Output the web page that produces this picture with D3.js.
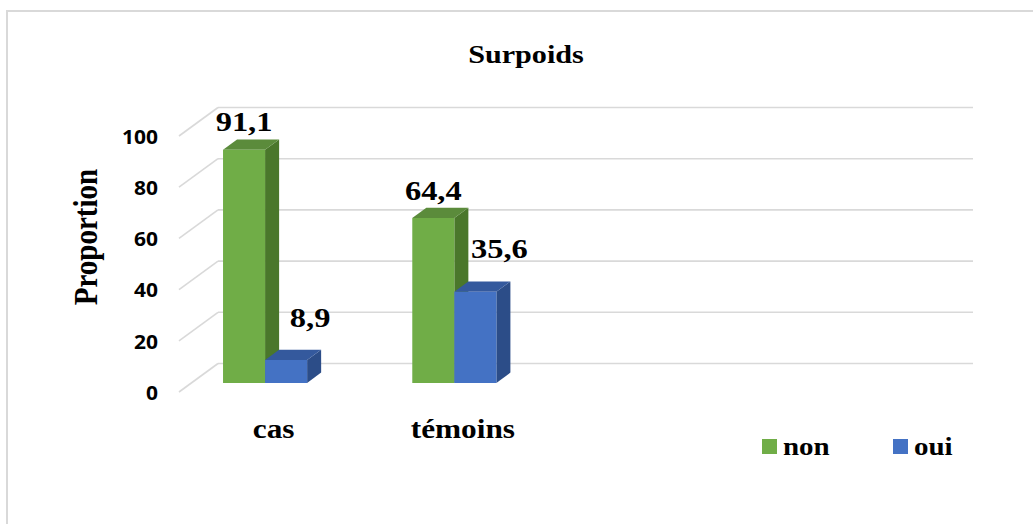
<!DOCTYPE html>
<html>
<head>
<meta charset="utf-8">
<script src="https://cdn.jsdelivr.net/npm/d3@7"></script>
<style>
  html, body { margin: 0; padding: 0; background: #fff; }
  svg { display: block; }
</style>
</head>
<body>
<svg id="chart" width="1033" height="524"></svg>
<script>
// ---- data ----
const categories = ["cas", "témoins", "", ""];
const seriesNames = ["non", "oui"];
const nonValues = [91.1, 64.4];
const ouiValues = [8.9, 35.6];
const valueLabels = { non: ["91,1", "64,4"], oui: ["8,9", "35,6"] };
const yTicks = [0, 20, 40, 60, 80, 100];

// ---- layout ----
const W = 1033, H = 524;
const svg = d3.select("#chart");
const SX = 1.16;                       // horizontal text stretch
const serif = "'Liberation Serif', 'Times New Roman', serif";
const sans = "'Open Sans', 'Liberation Sans', sans-serif";

const floorLeft = 179, floorRight = 936;   // front edge of the floor
const DX = 39, DY = -28.5;                 // depth vector (front -> back wall)
const barD0 = 0.32, barD1 = 0.68;          // bar depth span, as fraction of floor depth

const y = d3.scaleLinear().domain([0, 100]).range([392, 136]);
const x = d3.scaleBand().domain(d3.range(categories.length)).range([floorLeft, floorRight]).padding(0);
const bw = x.bandwidth();
const xs = d3.scaleBand().domain(seriesNames).range([0.1667 * bw, 0.611 * bw]).padding(0);

const colors = {
  non: { front: "#70ad47", side: "#4a772b", top: "#5b8b3b" },
  oui: { front: "#4472c4", side: "#2c4d88", top: "#34599d" }
};

// chart border
svg.append("rect")
  .attr("x", 7).attr("y", 11).attr("width", W + 20).attr("height", H + 20)
  .attr("fill", "none").attr("stroke", "#d9d9d9").attr("stroke-width", 2);

function stretchedText(g, tx, ty, txt, sx = SX) {
  return g.append("text")
    .attr("transform", `translate(${tx},${ty}) scale(${sx},1)`)
    .text(txt);
}

// title
stretchedText(svg, 526, 63, "Surpoids")
  .attr("text-anchor", "middle").attr("font-family", serif)
  .attr("font-weight", "bold").attr("font-size", 26).attr("fill", "#000");

// ---- grid: back wall and side wall ----
const grid = svg.append("g").attr("stroke", "#d9d9d9").attr("stroke-width", 1.6).attr("fill", "none");
yTicks.forEach(t => {
  const yf = y(t);
  grid.append("line")
    .attr("x1", floorLeft + DX).attr("y1", yf + DY)
    .attr("x2", floorRight + DX - 2).attr("y2", yf + DY);
  grid.append("line")
    .attr("x1", floorLeft).attr("y1", yf)
    .attr("x2", floorLeft + DX).attr("y2", yf + DY);
});

// y tick labels
const yAxis = svg.append("g");
yTicks.forEach(t => {
  stretchedText(yAxis, 158, y(t), String(t), 1.05)
    .attr("text-anchor", "end").attr("dominant-baseline", "central")
    .attr("font-family", sans).attr("font-weight", "bold")
    .attr("font-size", 20).attr("fill", "#000");
});

// y axis title
svg.append("text")
  .attr("transform", `translate(97,237) rotate(-90) scale(1,${SX})`)
  .attr("text-anchor", "middle")
  .attr("font-family", serif).attr("font-weight", "bold")
  .attr("font-size", 29).attr("fill", "#000")
  .text("Proportion");

// ---- 3D bars ----
const series = [
  { name: "non", values: nonValues },
  { name: "oui", values: ouiValues }
];
const bars = svg.append("g");
const pt = (px, py, d) => [px + d * DX, py + d * DY];
const poly = pts => pts.map(p => p.join(",")).join(" ");

nonValues.forEach((_, i) => {
  series.forEach(s => {
    const v = s.values[i];
    const x0 = x(i) + xs(s.name), x1 = x0 + xs.bandwidth();
    const yb = y(0), yt = y(v);
    const c = colors[s.name];
    // side face
    bars.append("polygon").attr("fill", c.side)
      .attr("points", poly([pt(x1, yt, barD0), pt(x1, yt, barD1), pt(x1, yb, barD1), pt(x1, yb, barD0)]));
    // top face
    bars.append("polygon").attr("fill", c.top)
      .attr("points", poly([pt(x0, yt, barD0), pt(x0, yt, barD1), pt(x1, yt, barD1), pt(x1, yt, barD0)]));
    // front face
    bars.append("polygon").attr("fill", c.front)
      .attr("points", poly([pt(x0, yt, barD0), pt(x1, yt, barD0), pt(x1, yb, barD0), pt(x0, yb, barD0)]));
  });
});

// value labels, placed relative to each bar's front face and top
const labelOffset = { non: [0, -8], oui: [24, -23] };
nonValues.forEach((_, i) => {
  series.forEach(s => {
    const v = s.values[i];
    const cx = x(i) + xs(s.name) + xs.bandwidth() / 2 + barD0 * DX;
    const topBack = y(v) + barD1 * DY;
    const [ox, oy] = labelOffset[s.name];
    stretchedText(svg, cx + ox, topBack + oy, valueLabels[s.name][i])
      .attr("text-anchor", "middle").attr("font-family", serif)
      .attr("font-weight", "bold").attr("font-size", 28).attr("fill", "#000");
  });
});

// category labels
categories.forEach((c, i) => {
  if (!c) return;
  stretchedText(svg, x(i) + bw / 2, 438, c)
    .attr("text-anchor", "middle").attr("font-family", serif)
    .attr("font-weight", "bold").attr("font-size", 27).attr("fill", "#000");
});

// legend
const legendX = [762, 893];
const legend = svg.append("g");
seriesNames.forEach((n, i) => {
  legend.append("rect")
    .attr("x", legendX[i]).attr("y", 439).attr("width", 15).attr("height", 15)
    .attr("fill", colors[n].front);
  stretchedText(legend, legendX[i] + 21, 455, n)
    .attr("font-family", serif).attr("font-weight", "bold")
    .attr("font-size", 25).attr("fill", "#000");
});
</script>
</body>
</html>
